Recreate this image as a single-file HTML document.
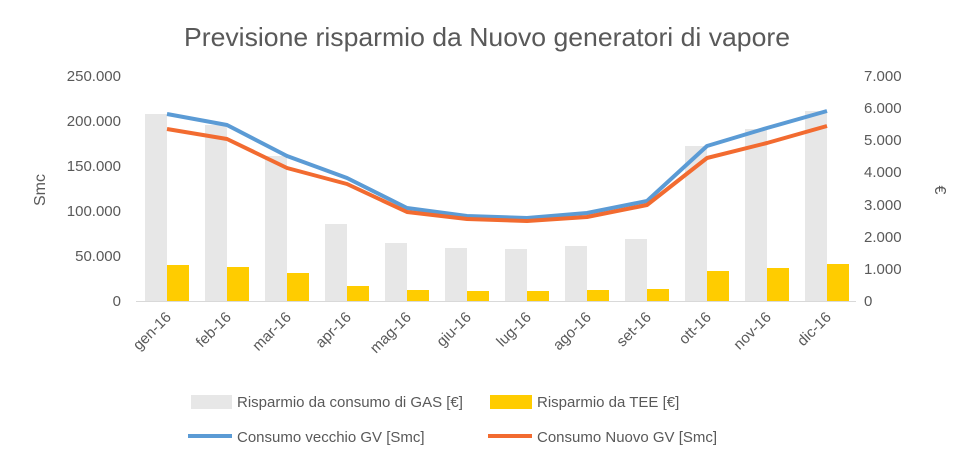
<!DOCTYPE html>
<html><head><meta charset="utf-8"><style>
body{margin:0;background:#fff;}
text{font-family:"Liberation Sans",sans-serif;fill:#595959;}
</style></head><body>
<svg width="960" height="464" xmlns="http://www.w3.org/2000/svg">
<text x="487" y="46" font-size="26" text-anchor="middle" textLength="606" lengthAdjust="spacingAndGlyphs">Previsione risparmio da Nuovo generatori di vapore</text>
<g font-size="15" text-anchor="end">
<text x="121" y="306">0</text><text x="121" y="261">50.000</text><text x="121" y="216">100.000</text>
<text x="121" y="171">150.000</text><text x="121" y="126">200.000</text><text x="121" y="81">250.000</text>
</g>
<g font-size="15">
<text x="864" y="306">0</text><text x="864" y="274">1.000</text><text x="864" y="242">2.000</text>
<text x="864" y="210">3.000</text><text x="864" y="177">4.000</text><text x="864" y="145">5.000</text>
<text x="864" y="113">6.000</text><text x="864" y="81">7.000</text>
</g>
<text transform="translate(45,190) rotate(-90)" font-size="16" text-anchor="middle">Smc</text>
<text transform="translate(935,190) rotate(90)" font-size="16" text-anchor="middle">€</text>
<g fill="#e7e7e7">
<rect x="145" y="114" width="22" height="187"/><rect x="205" y="125" width="22" height="176"/>
<rect x="265" y="156" width="22" height="145"/><rect x="325" y="224" width="22" height="77"/>
<rect x="385" y="243" width="22" height="58"/><rect x="445" y="248" width="22" height="53"/>
<rect x="505" y="249" width="22" height="52"/><rect x="565" y="246" width="22" height="55"/>
<rect x="625" y="239" width="22" height="62"/><rect x="685" y="146" width="22" height="155"/>
<rect x="745" y="129" width="22" height="172"/><rect x="805" y="111" width="22" height="190"/>
</g>
<g fill="#ffcc00">
<rect x="167" y="265" width="22" height="36"/><rect x="227" y="267" width="22" height="34"/>
<rect x="287" y="273" width="22" height="28"/><rect x="347" y="286" width="22" height="15"/>
<rect x="407" y="290" width="22" height="11"/><rect x="467" y="291" width="22" height="10"/>
<rect x="527" y="291" width="22" height="10"/><rect x="587" y="290" width="22" height="11"/>
<rect x="647" y="289" width="22" height="12"/><rect x="707" y="271" width="22" height="30"/>
<rect x="767" y="268" width="22" height="33"/><rect x="827" y="264" width="22" height="37"/>
</g>
<line x1="136" y1="301.5" x2="856" y2="301.5" stroke="#d9d9d9" stroke-width="1"/>
<polyline fill="none" stroke="#5b9bd5" stroke-width="4" stroke-linejoin="round" points="167,114 227,125 287,156 347,178 407,208 467,216 527,218 587,213 647,201 707,146 767,128 827,111"/>
<polyline fill="none" stroke="#f26b30" stroke-width="4" stroke-linejoin="round" points="167,129 227,139 287,168 347,184 407,212 467,219 527,221 587,217 647,205 707,158 767,143 827,126"/>
<g font-size="15" text-anchor="end">
<text transform="translate(172,318) rotate(-45)">gen-16</text>
<text transform="translate(232,318) rotate(-45)">feb-16</text>
<text transform="translate(292,318) rotate(-45)">mar-16</text>
<text transform="translate(352,318) rotate(-45)">apr-16</text>
<text transform="translate(412,318) rotate(-45)">mag-16</text>
<text transform="translate(472,318) rotate(-45)">giu-16</text>
<text transform="translate(532,318) rotate(-45)">lug-16</text>
<text transform="translate(592,318) rotate(-45)">ago-16</text>
<text transform="translate(652,318) rotate(-45)">set-16</text>
<text transform="translate(712,318) rotate(-45)">ott-16</text>
<text transform="translate(772,318) rotate(-45)">nov-16</text>
<text transform="translate(832,318) rotate(-45)">dic-16</text>
</g>
<rect x="191" y="395" width="41" height="14" fill="#e7e7e7"/>
<text x="237" y="407" font-size="15">Risparmio da consumo di GAS [€]</text>
<rect x="490" y="395" width="42" height="14" fill="#ffcc00"/>
<text x="537" y="407" font-size="15">Risparmio da TEE [€]</text>
<line x1="188" y1="436" x2="232" y2="436" stroke="#5b9bd5" stroke-width="4"/>
<text x="237" y="442" font-size="15">Consumo vecchio GV [Smc]</text>
<line x1="488" y1="436" x2="532" y2="436" stroke="#f26b30" stroke-width="4"/>
<text x="537" y="442" font-size="15">Consumo Nuovo GV [Smc]</text>
</svg>
</body></html>
